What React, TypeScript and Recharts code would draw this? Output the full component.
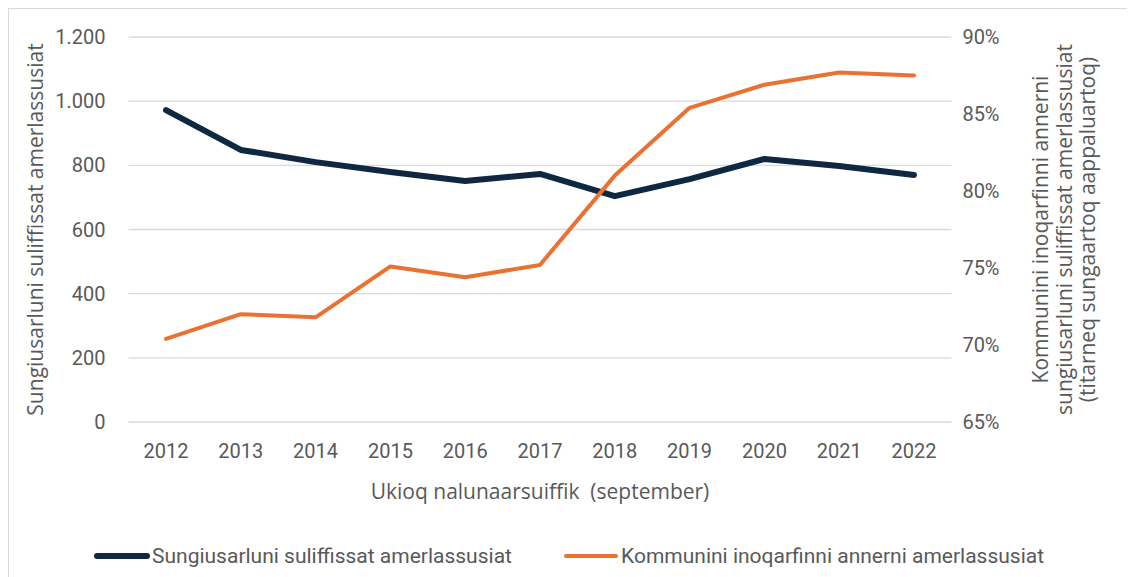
import { LineChart, Line, XAxis, YAxis, CartesianGrid } from "recharts"

const years = ["2012", "2013", "2014", "2015", "2016", "2017", "2018", "2019", "2020", "2021", "2022"]
const placesCount = [972, 848, 810, 779, 751, 773, 704, 757, 820, 798, 770]
const bigTownShare = [70.4, 72.0, 71.8, 75.1, 74.4, 75.2, 81.0, 85.4, 86.9, 87.7, 87.5]
const leftTicks = [0, 200, 400, 600, 800, 1000, 1200]
const rightTicks = [65, 70, 75, 80, 85, 90]

const data = years.map((y, i) => ({ year: y, count: placesCount[i], share: bigTownShare[i] }))

const FONT = "Roboto, 'Liberation Sans', sans-serif"
const TITLE_FONT = "'Open Sans', Roboto, sans-serif"
const GREY = "#595959"
const NAVY = "#0e2841"
const ORANGE = "#e97132"

const fmtThousands = (v: number) => String(v).replace(/\B(?=(\d{3})+(?!\d))/g, ".")

function LeftTitle(props: any) {
  const vb = props.viewBox
  const x = vb.x + 26
  const y = vb.y + vb.height / 2
  return (
    <text x={x} y={y} transform={`rotate(-90 ${x} ${y})`} textAnchor="middle" dominantBaseline="central"
      fill={GREY} fontSize={21} fontFamily={TITLE_FONT}>
      Sungiusarluni suliffissat amerlassusiat
    </text>
  )
}

function RightTitle(props: any) {
  const vb = props.viewBox
  const y = vb.y + vb.height / 2
  const lines = [
    "Kommunini inoqarfinni annerni",
    "sungiusarluni suliffissat amerlassusiat",
    "(titarneq sungaartoq aappaluartoq)",
  ]
  const offs = [88.6, 112.6, 135.6]
  return (
    <g>
      {lines.map((l, i) => {
        const x = vb.x + offs[i]
        return (
          <text key={i} x={x} y={y} transform={`rotate(-90 ${x} ${y})`} textAnchor="middle" dominantBaseline="central"
            fill={GREY} fontSize={21} fontFamily={TITLE_FONT}>
            {l}
          </text>
        )
      })}
    </g>
  )
}

function BottomTitle(props: any) {
  const vb = props.viewBox
  return (
    <text x={vb.x + vb.width / 2} y={vb.y + 69} textAnchor="middle" dominantBaseline="central"
      fill={GREY} fontSize={21} fontFamily={TITLE_FONT} style={{ whiteSpace: "pre" }}>
      {"Ukioq nalunaarsuiffik  (september)"}
    </text>
  )
}

export default function App() {
  return (
    <div style={{ position: "relative", width: 1127, height: 569, border: "1px solid #d9d9d9", fontFamily: FONT }}>
      <LineChart width={1127} height={569} data={data} margin={{ top: 28, right: 0, bottom: 56, left: 0 }}>
        <CartesianGrid yAxisId="left" vertical={false} stroke="#d9d9d9" strokeWidth={1.3} />
        <XAxis dataKey="year" axisLine={false} tickLine={false} tickSize={0} tickMargin={22} height={100}
          padding={{ left: 37.4, right: 37.4 }}
          tick={{ fill: GREY, fontSize: 20, fontFamily: FONT }} label={BottomTitle} />
        <YAxis yAxisId="left" domain={[0, 1200]} ticks={leftTicks} width={119.6} axisLine={false} tickLine={false}
          tickSize={0} tickMargin={23} tickFormatter={fmtThousands}
          tick={{ fill: GREY, fontSize: 20, fontFamily: FONT }} label={LeftTitle} />
        <YAxis yAxisId="right" orientation="right" domain={[65, 90]} ticks={rightTicks} width={184.6}
          axisLine={false} tickLine={false} tickSize={0} tickMargin={11} tickFormatter={(v: number) => `${v}%`}
          tick={{ fill: GREY, fontSize: 20, fontFamily: FONT }} label={RightTitle} />
        <Line yAxisId="left" type="linear" dataKey="count" stroke={NAVY} strokeWidth={6} dot={false}
          strokeLinecap="round" strokeLinejoin="round" isAnimationActive={false} />
        <Line yAxisId="right" type="linear" dataKey="share" stroke={ORANGE} strokeWidth={4} dot={false}
          strokeLinecap="round" strokeLinejoin="round" isAnimationActive={false} />
      </LineChart>
      <div style={{ position: "absolute", left: 85, top: 535, display: "flex", alignItems: "center", color: GREY, fontSize: 21, whiteSpace: "nowrap" }}>
        <span style={{ display: "inline-block", width: 56, height: 6, borderRadius: 3, background: NAVY }} />
        <span style={{ marginLeft: 2 }}>Sungiusarluni suliffissat amerlassusiat</span>
      </div>
      <div style={{ position: "absolute", left: 555, top: 535, display: "flex", alignItems: "center", color: GREY, fontSize: 21, whiteSpace: "nowrap" }}>
        <span style={{ display: "inline-block", width: 54, height: 4, borderRadius: 2, background: ORANGE }} />
        <span style={{ marginLeft: 3 }}>Kommunini inoqarfinni annerni amerlassusiat</span>
      </div>
    </div>
  )
}
